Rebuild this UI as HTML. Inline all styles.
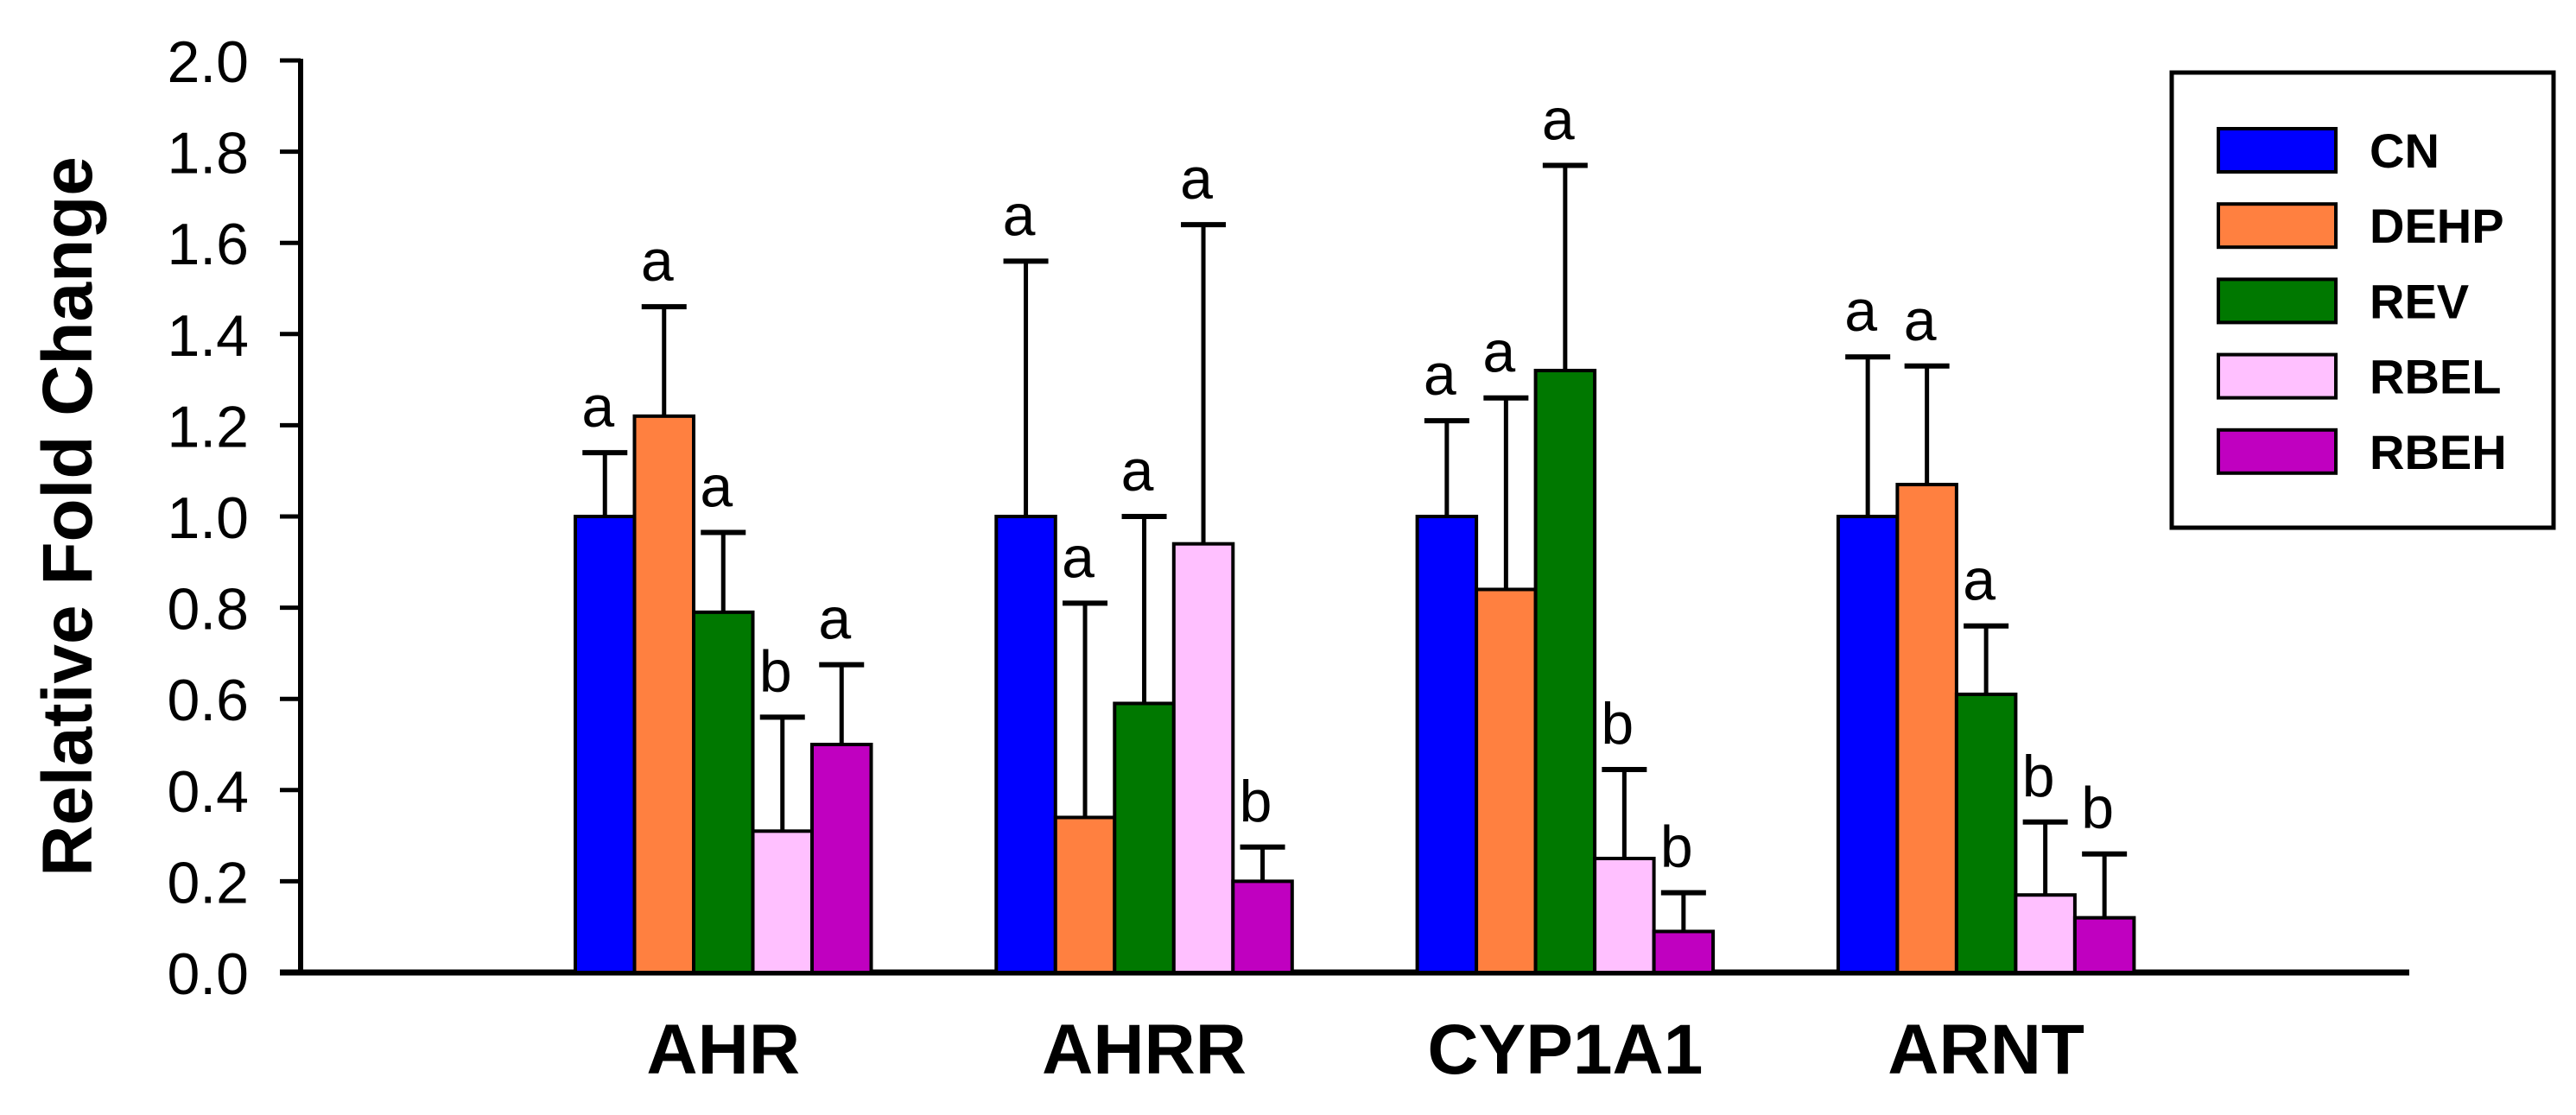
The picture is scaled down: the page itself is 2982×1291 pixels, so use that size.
<!DOCTYPE html>
<html><head><meta charset="utf-8"><style>
html,body{margin:0;padding:0;background:#fff;}
svg{display:block;font-family:"Liberation Sans",Arial,sans-serif;}
</style></head><body>
<svg id="chart" width="2982" height="1291" viewBox="0 0 2982 1291" xmlns="http://www.w3.org/2000/svg">
<g id="axes"></g>
<g id="bars"></g>
<g id="legend"></g>
</svg>
<script>
const categories = ["AHR","AHRR","CYP1A1","ARNT"];
const seriesNames = ["CN","DEHP","REV","RBEL","RBEH"];
const seriesColors = ["#0000ff","#ff8040","#007800","#ffc0ff","#c000c0"];
const valCN   = [1.00, 1.00, 1.00, 1.00];
const valDEHP = [1.22, 0.34, 0.84, 1.07];
const valREV  = [0.79, 0.59, 1.32, 0.61];
const valRBEL = [0.31, 0.94, 0.25, 0.17];
const valRBEH = [0.50, 0.20, 0.09, 0.12];
const errCN   = [1.14, 1.56, 1.21, 1.35];
const errDEHP = [1.46, 0.81, 1.26, 1.33];
const errREV  = [0.965, 1.00, 1.77, 0.76];
const errRBEL = [0.56, 1.64, 0.445, 0.33];
const errRBEH = [0.675, 0.275, 0.175, 0.26];
const letCN   = ["a","a","a","a"];
const letDEHP = ["a","a","a","a"];
const letREV  = ["a","a","a","a"];
const letRBEL = ["b","a","b","b"];
const letRBEH = ["a","b","b","b"];
const yTicks = ["0.0","0.2","0.4","0.6","0.8","1.0","1.2","1.4","1.6","1.8","2.0"];

const values=[valCN,valDEHP,valREV,valRBEL,valRBEH];
const errs=[errCN,errDEHP,errREV,errRBEL,errRBEH];
const lets=[letCN,letDEHP,letREV,letRBEL,letRBEH];
const NS="http://www.w3.org/2000/svg";
const Y0=1126, Y1=70, AX=348;
function y(v){return Y0-(v/2.0)*(Y0-Y1);}
const barW=68.5, groupStart=666, groupStep=487.3;
function xb(g,s){return groupStart+g*groupStep+s*barW;}
function mk(tag,attrs,parent){const e=document.createElementNS(NS,tag);for(const k in attrs)e.setAttribute(k,attrs[k]);parent.appendChild(e);return e;}
const axes=document.getElementById('axes'), bars=document.getElementById('bars'), leg=document.getElementById('legend');

yTicks.forEach(t=>{
  const v=parseFloat(t);
  const tk=mk('line',{x1:324,x2:AX,y1:y(v),y2:y(v),stroke:'#000','stroke-width':5},axes);
  
  
  const tl=mk('text',{x:288,y:y(v)+25,'text-anchor':'end','font-size':68},axes);
  tl.textContent=t;
  
  
});
const ya=mk('line',{x1:AX,x2:AX,y1:Y1-2,y2:Y0+2,stroke:'#000','stroke-width':6},axes);


const yt=mk('text',{x:0,y:0,transform:'translate(106,598) rotate(-90)','text-anchor':'middle','font-size':82,'font-weight':'bold'},axes);
yt.textContent='Relative Fold Change';



categories.forEach((c,g)=>{
  for(let s=0;s<5;s++){
    const v=values[s][g], e=errs[s][g];
    const x=xb(g,s), cx=x+barW/2;
    const r=mk('rect',{x:x,y:y(v),width:barW,height:Y0-y(v),fill:seriesColors[s],stroke:'#000','stroke-width':4},bars);
    
    
    const el=mk('line',{x1:cx,x2:cx,y1:y(v),y2:y(e),stroke:'#000','stroke-width':5},bars);
    
    
    const ec=mk('line',{x1:cx-26,x2:cx+26,y1:y(e),y2:y(e),stroke:'#000','stroke-width':6},bars);
    
    
    const lt=mk('text',{x:cx-8,y:y(e)-30,'text-anchor':'middle','font-size':68},bars);
    lt.textContent=lets[s][g];
    
    
  }
  const cl=mk('text',{x:xb(g,0)+2.5*barW,y:1243,'text-anchor':'middle','font-size':82,'font-weight':'bold'},axes);
  cl.textContent=c;
  
  
});
const xa=mk('line',{x1:324,x2:2789,y1:Y0,y2:Y0,stroke:'#000','stroke-width':7},axes);



const lb=mk('rect',{x:2514,y:84,width:442,height:527,fill:'#fff',stroke:'#000','stroke-width':5},leg);


seriesNames.forEach((n,i)=>{
  const yy=149+i*87.2;
  const sw=mk('rect',{x:2568,y:yy,width:136,height:50,fill:seriesColors[i],stroke:'#000','stroke-width':4},leg);
  
  
  const t=mk('text',{x:2743,y:yy+45,'font-size':56,'font-weight':'bold'},leg);
  t.textContent=n;
  
  
});
</script>
</body></html>
